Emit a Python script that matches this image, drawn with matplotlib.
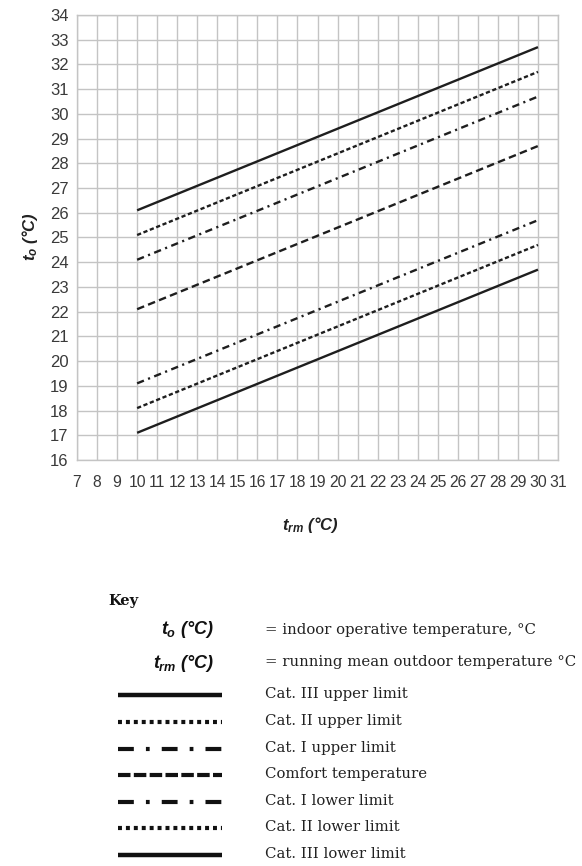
import matplotlib
matplotlib.use("Agg")
import matplotlib.pyplot as plt

plt.rcParams['mathtext.fontset'] = 'custom'
plt.rcParams['mathtext.it'] = 'Liberation Sans:italic:bold'
plt.rcParams['mathtext.rm'] = 'Liberation Sans:bold'
plt.rcParams['mathtext.bf'] = 'Liberation Sans:bold'

# Data
trm = [10, 30]
cat3_upper = [26.1, 32.7]
cat2_upper = [25.1, 31.7]
cat1_upper = [24.1, 30.7]
comfort = [22.1, 28.7]
cat1_lower = [19.1, 25.7]
cat2_lower = [18.1, 24.7]
cat3_lower = [17.1, 23.7]

x_ticks = list(range(7, 32))
y_ticks = list(range(16, 35))

series = [
    ("Cat. III upper limit", cat3_upper, "solid"),
    ("Cat. II upper limit", cat2_upper, "dotted"),
    ("Cat. I upper limit", cat1_upper, "dashdot"),
    ("Comfort temperature", comfort, "dashed"),
    ("Cat. I lower limit", cat1_lower, "dashdot"),
    ("Cat. II lower limit", cat2_lower, "dotted"),
    ("Cat. III lower limit", cat3_lower, "solid"),
]

styles = {
    "solid": dict(linestyle="-"),
    "dotted": dict(linestyle=(0, (1.8, 1.1))),
    "dashdot": dict(linestyle=(0, (3.1, 1.9, 0.9, 1.9))),
    "dashed": dict(linestyle=(0, (3.2, 1.8))),
}
key_styles = {
    "solid": dict(linestyle="-", linewidth=3.2),
    "dotted": dict(linestyle=(0, (0.95, 0.95)), linewidth=3.0),
    "dashdot": dict(linestyle=(0, (3.8, 2.9, 0.9, 2.9)), linewidth=3.0),
    "dashed": dict(linestyle=(0, (3.0, 0.8)), linewidth=3.0),
}

W, H = 582, 866
fig = plt.figure(figsize=(W / 100, H / 100), dpi=100)
fig.patch.set_facecolor("white")

ax = fig.add_axes([77 / W, 1 - 460 / H, (558 - 77) / W, (460 - 15) / H])
for name, vals, st in series:
    ax.plot(trm, vals, color="#1e1e1e", linewidth=1.7, solid_capstyle="butt",
            dash_capstyle="butt", **styles[st])

ax.set_xlim(7, 31)
ax.set_ylim(16, 34)
ax.set_xticks(x_ticks)
ax.set_yticks(y_ticks)
ax.grid(True, color="#c4c4c4", linewidth=1.0)
ax.set_axisbelow(True)
for sp in ax.spines.values():
    sp.set_color("#c4c4c4")
    sp.set_linewidth(1.0)
ax.tick_params(length=0, colors="#3a3a3a")
ax.tick_params(axis="y", pad=6, labelsize=12)
ax.tick_params(axis="x", pad=11, labelsize=11.3)
for lab in ax.get_xticklabels() + ax.get_yticklabels():
    lab.set_family("Liberation Sans")

fig.text(310 / W, 1 - 525 / H, r"$t_{rm}$ (°C)", ha="center", va="center",
         fontsize=12, fontweight="bold", style="italic", family="Liberation Sans",
         color="#222222")
fig.text(30 / W, 1 - 237 / H, r"$t_{o}$ (°C)", ha="center", va="center",
         rotation=90, fontsize=12, fontweight="bold", style="italic",
         family="Liberation Sans", color="#222222")

# Key
kax = fig.add_axes([0, 0, 1, 1])
kax.set_xlim(0, W)
kax.set_ylim(H, 0)
kax.axis("off")

serif = ["DejaVu Serif"]
kax.text(108, 601, "Key", ha="left", va="center", fontsize=10.5,
         fontweight="bold", family=serif, color="#111111")
kax.text(214, 630, r"$t_{o}$ (°C)", ha="right", va="center", fontsize=13,
         fontweight="bold", style="italic", family="Liberation Sans", color="#111111")
kax.text(214, 663, r"$t_{rm}$ (°C)", ha="right", va="center", fontsize=13,
         fontweight="bold", style="italic", family="Liberation Sans", color="#111111")
kax.text(265, 630, "= indoor operative temperature, °C", ha="left", va="center",
         fontsize=10.7, family=serif, color="#222222")
kax.text(265, 662, "= running mean outdoor temperature °C", ha="left", va="center",
         fontsize=10.7, family=serif, color="#222222")

rows = [695, 722, 749, 775, 802, 828, 855]
for (name, vals, st), yy in zip(series, rows):
    kax.plot([118, 222], [yy, yy], color="#111111", solid_capstyle="butt",
             dash_capstyle="butt", **key_styles[st])
    kax.text(265, yy - 1, name, ha="left", va="center", fontsize=10.7,
             family=serif, color="#222222")

fig.savefig("out.png", dpi=100, facecolor="white")
